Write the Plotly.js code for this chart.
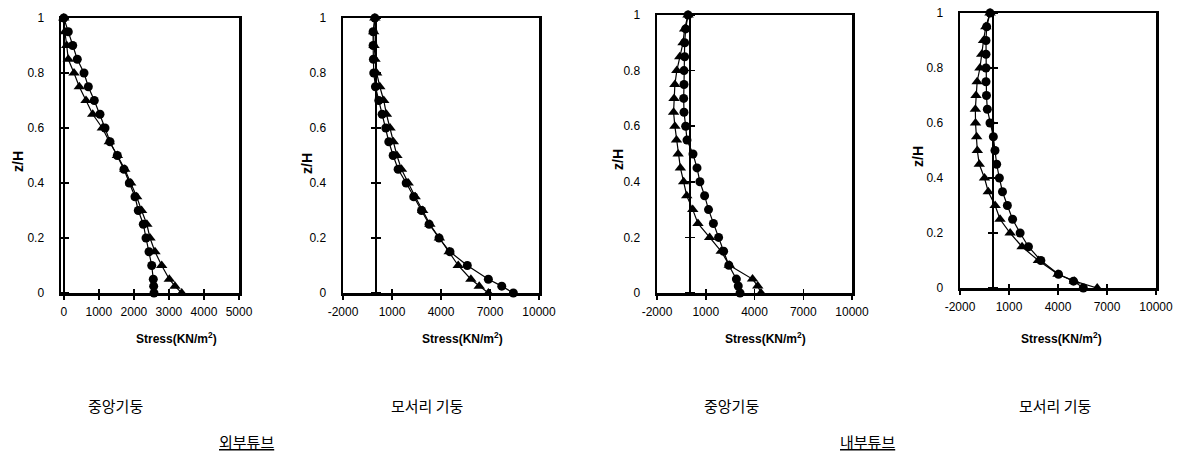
<!DOCTYPE html>
<html>
<head>
<meta charset="utf-8">
<script src="https://cdn.plot.ly/plotly-3.0.1.min.js"></script>
<style>html,body{margin:0;padding:0;background:#fff;}#chart{width:1185px;height:461px;}</style>
</head>
<body>
<div id="chart"></div>
<script>
// ---------- DATA ----------
const zLevels = [1, 0.95, 0.9, 0.85, 0.8, 0.75, 0.7, 0.65, 0.6, 0.55, 0.5, 0.45, 0.4, 0.35, 0.3, 0.25, 0.2, 0.15, 0.1, 0.05, 0.025, 0];

// 외부튜브 - 중앙기둥
const outerCenterCircle = [0, 128, 254, 385, 576, 700, 870, 1033, 1176, 1318, 1527, 1717, 1870, 2032, 2126, 2269, 2346, 2432, 2509, 2554, 2565, 2574];
const outerCenterTri    = [0, 30, 83, 128, 291, 442, 634, 825, 1100, 1300, 1530, 1740, 1910, 2080, 2220, 2370, 2460, 2603, 2794, 3011, 3173, 3365];
// 외부튜브 - 모서리 기둥
const outerCornerCircle = [-50, -157, -157, -137, -117, -14, 190, 395, 620, 804, 1070, 1376, 1870, 2330, 2810, 3270, 3880, 4550, 5610, 6900, 7720, 8430];
const outerCornerTri    = [-50, -120, -100, -40, 60, 255, 495, 660, 880, 1080, 1300, 1580, 1990, 2420, 2880, 3320, 3900, 4500, 5055, 5830, 6340, 6900];
// 내부튜브 - 중앙기둥
const innerCenterCircle = [-90, -236, -297, -297, -338, -338, -359, -338, -236, -154, 215, 462, 640, 930, 1170, 1470, 1790, 2100, 2420, 2885, 3000, 3110];
const innerCenterTri    = [-90, -300, -400, -600, -780, -900, -950, -980, -900, -800, -700, -560, -360, -170, 200, 520, 1240, 1950, 2450, 3880, 4200, 4400];
// 내부튜브 - 모서리 기둥
const innerCornerCircle = [-160, -368, -409, -409, -409, -409, -380, -327, -164, 41, 143, 245, 410, 600, 900, 1220, 1680, 2190, 2950, 4030, 4950, 5550];
const innerCornerTri    = [-160, -420, -560, -670, -780, -950, -1020, -1060, -1050, -980, -940, -820, -500, -270, 150, 450, 1070, 1800, 2800, 4000, 5000, 6400];

const xTickVals1 = [0, 1000, 2000, 3000, 4000, 5000];
const xTickText1 = ['0', '1000', '2000', '3000', '4000', '5000'];
const xTickVals2 = [-2000, 1000, 4000, 7000, 10000];
const xTickText2 = ['-2000', '1000', '4000', '7000', '10000'];
const yTickVals = [0, 0.2, 0.4, 0.6, 0.8, 1];
const yTickText = ['0', '0.2', '0.4', '0.6', '0.8', '1'];

const panelLabels = ['중앙기둥', '모서리 기둥', '중앙기둥', '모서리 기둥'];
const groupLabels = ['외부튜브', '내부튜브'];
const xTitle = 'Stress(KN/m<sup>2</sup>)';
const yTitle = 'z/H';

// ---------- LAYOUT ----------
const W = 1185, H = 461;
const frames = [
  {x0: 61, x1: 239, y0: 18, y1: 293},
  {x0: 343, x1: 539, y0: 18, y1: 293},
  {x0: 657, x1: 852, y0: 15, y1: 293},
  {x0: 960, x1: 1156, y0: 13, y1: 288}
];
const xRanges = [[-80, 5000], [-2000, 10000], [-2000, 10000], [-2000, 10000]];
const xTicks = [[xTickVals1, xTickText1], [xTickVals2, xTickText2], [xTickVals2, xTickText2], [xTickVals2, xTickText2]];
const series = [
  [outerCenterCircle, outerCenterTri],
  [outerCornerCircle, outerCornerTri],
  [innerCenterCircle, innerCenterTri],
  [innerCornerCircle, innerCornerTri]
];
const yTitlePos = [[18, 162], [307, 164], [618, 160], [918, 157]];
const xTitlePos = [[176, 338], [462, 338], [765, 338], [1061, 338]];
const panelLabelPos = [[115, 405], [427, 405], [731, 405], [1055, 405]];
const groupLabelPos = [[246, 441], [867, 441]];

const tickFont = {family: 'Liberation Sans, Arial, sans-serif', size: 12, color: '#000'};

const data = [];
const layout = {
  width: W, height: H,
  margin: {l: 0, r: 0, t: 0, b: 0},
  paper_bgcolor: '#fff', plot_bgcolor: '#fff',
  showlegend: false,
  annotations: [],
  font: tickFont
};

for (let i = 0; i < 4; i++) {
  const n = i + 1;
  const f = frames[i];
  const dx = [f.x0 / W, f.x1 / W];
  const dy = [1 - f.y1 / H, 1 - f.y0 / H];
  const xr = xRanges[i];
  const xa = 'x' + n, ya = 'y' + n;

  layout['xaxis' + n] = {
    domain: dx, anchor: ya, range: xr, tickmode: 'array',
    tickvals: xTicks[i][0], ticktext: xTicks[i][1],
    showline: true, mirror: true, linecolor: '#000', linewidth: 2.5,
    ticks: 'outside', ticklen: 4, tickwidth: 1.5, tickcolor: '#000',
    showgrid: false, zeroline: false, tickfont: tickFont, ticklabelstandoff: 2
  };
  layout['yaxis' + n] = {
    domain: dy, anchor: xa, range: [0, 1], tickmode: 'array',
    tickvals: yTickVals, ticktext: yTickText,
    showline: true, mirror: true, linecolor: '#000', linewidth: 2.5,
    ticks: '', showgrid: false, zeroline: false, tickfont: tickFont, ticklabelstandoff: 12
  };

  // vertical axis drawn at x = 0 with crossing tick marks
  const pos = dx[0] + (0 - xr[0]) / (xr[1] - xr[0]) * (dx[1] - dx[0]);
  const common0 = {
    overlaying: ya, anchor: 'free', position: pos, range: [0, 1],
    tickmode: 'array', tickvals: yTickVals, showticklabels: false,
    ticks: 'outside', ticklen: 4, tickwidth: 1.5, tickcolor: '#000',
    showline: true, linecolor: '#000', linewidth: 2.5, showgrid: false, zeroline: false
  };
  layout['yaxis' + (n + 4)] = Object.assign({}, common0, {side: 'left'});
  layout['yaxis' + (n + 8)] = Object.assign({}, common0, {side: 'right'});
  data.push({x: [], y: [], xaxis: xa, yaxis: 'y' + (n + 4), type: 'scatter', hoverinfo: 'skip'});
  data.push({x: [], y: [], xaxis: xa, yaxis: 'y' + (n + 8), type: 'scatter', hoverinfo: 'skip'});

  // inside half of x tick marks
  layout['xaxis' + (n + 4)] = {
    overlaying: xa, anchor: ya, side: 'bottom', range: xr, tickmode: 'array',
    tickvals: xTicks[i][0], showticklabels: false, ticks: 'inside', ticklen: 4,
    tickwidth: 1.5, tickcolor: '#000', showline: false, showgrid: false, zeroline: false
  };
  data.push({x: [], y: [], xaxis: 'x' + (n + 4), yaxis: ya, type: 'scatter', hoverinfo: 'skip'});

  // series
  data.push({
    x: series[i][0], y: zLevels, xaxis: xa, yaxis: ya, type: 'scatter', mode: 'lines+markers',
    line: {color: '#000', width: 1.2}, marker: {symbol: 'circle', size: 9, color: '#000'},
    cliponaxis: false
  });
  data.push({
    x: series[i][1], y: zLevels, xaxis: xa, yaxis: ya, type: 'scatter', mode: 'lines+markers',
    line: {color: '#000', width: 1.2}, marker: {symbol: 'triangle-up', size: 10, color: '#000'},
    cliponaxis: false
  });

  layout.annotations.push({
    xref: 'paper', yref: 'paper', x: yTitlePos[i][0] / W, y: 1 - yTitlePos[i][1] / H,
    text: '<b>' + yTitle + '</b>', textangle: -90, showarrow: false,
    font: {family: 'Liberation Sans, Arial, sans-serif', size: 14, color: '#000'},
    xanchor: 'center', yanchor: 'middle'
  });
  layout.annotations.push({
    xref: 'paper', yref: 'paper', x: xTitlePos[i][0] / W, y: 1 - xTitlePos[i][1] / H,
    text: '<b>' + xTitle + '</b>', showarrow: false,
    font: {family: 'Liberation Sans, Arial, sans-serif', size: 12, color: '#000'},
    xanchor: 'center', yanchor: 'middle'
  });
  layout.annotations.push({
    xref: 'paper', yref: 'paper', x: panelLabelPos[i][0] / W, y: 1 - panelLabelPos[i][1] / H,
    text: panelLabels[i], showarrow: false,
    font: {family: 'Noto Sans CJK KR, sans-serif', size: 15, color: '#000'},
    xanchor: 'center', yanchor: 'middle'
  });
}
for (let g = 0; g < 2; g++) {
  layout.annotations.push({
    xref: 'paper', yref: 'paper', x: groupLabelPos[g][0] / W, y: 1 - groupLabelPos[g][1] / H,
    text: '<u>' + groupLabels[g] + '</u>', showarrow: false,
    font: {family: 'Noto Sans CJK KR, sans-serif', size: 15, color: '#000'},
    xanchor: 'center', yanchor: 'middle'
  });
}

Plotly.newPlot('chart', data, layout, {staticPlot: true, displayModeBar: false});
</script>
</body>
</html>
